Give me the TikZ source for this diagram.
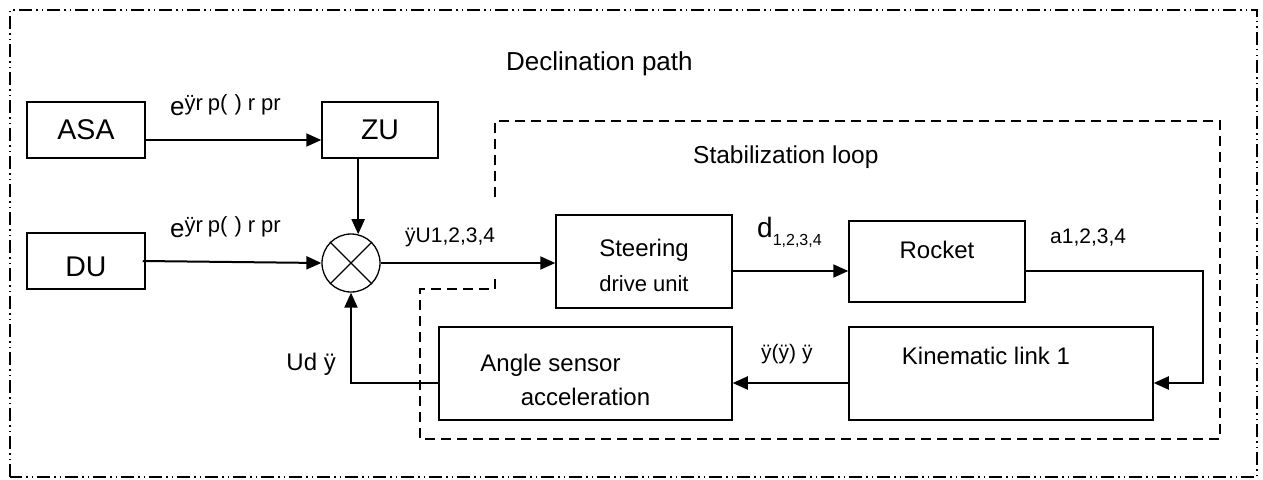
\documentclass[tikz,border=0pt]{standalone}
\usepackage{fontspec}
\setmainfont{Liberation Sans}
\usetikzlibrary{calc}
\usetikzlibrary{positioning}
\usetikzlibrary{arrows.meta}

\begin{document}
\begin{tikzpicture}[x=1pt, y=-1pt,
    block/.style={rectangle, draw=black, line width=1.5pt, inner sep=0pt},
    bigtext/.style={font=\fontsize{28.5}{30}\selectfont},
    boxtext/.style={font=\fontsize{24}{26}\selectfont},
    smalltext/.style={font=\fontsize{22}{24}\selectfont},
    tag/.style={inner sep=0pt, font=\fontsize{21}{23}\selectfont},
    summer/.style={circle, draw=black, line width=1.3pt, minimum size=58pt, inner sep=0pt},
    signal/.style={-{Triangle[length=15pt,width=13pt]}, line width=2pt},
    region/.style={line width=1.5pt, dash pattern=on 10pt off 6pt},
    frame/.style={line width=1.5pt, dash pattern=on 13pt off 4pt on 1.5pt off 4pt on 1.5pt off 4pt}]
\useasboundingbox (0,0) rectangle (1263,479);

% outer frame and stabilization region
\draw[frame] (10,477) -- (10,10) -- (1257,10) -- (1257,477) -- cycle;
\draw[region] (495,197) -- (495,121) -- (1220,121) -- (1220,439) -- (420,439) -- (420,289) -- (495,289) -- (495,277);

\node[anchor=base west, inner sep=0pt, font=\fontsize{26}{28}\selectfont] (decl) at (506,70) {Declination path};
\node[anchor=base west, inner sep=0pt, font=\fontsize{24.5}{26}\selectfont] (stab) at (693,163) {Stabilization loop};

% blocks
\node[block, bigtext, minimum width=118pt, minimum height=56pt] (asa) at (86,130) {ASA};
\node[block, bigtext, minimum width=116pt, minimum height=56pt] (zu) at (380,130) {ZU};
\node[block, minimum width=118pt, minimum height=56pt, label={[bigtext, yshift=-6pt]center:DU}] (du) at (86,261) {};
\node[summer] (sum) at (351,263) {};
\draw[line width=1.3pt] (sum.north east) -- (sum.south west) (sum.north west) -- (sum.south east);

\node[block, minimum width=176pt, minimum height=93pt,
      label={[boxtext, yshift=11.5pt]center:Steering},
      label={[smalltext, yshift=-22.5pt]center:drive unit}] (steer) at (644,261.5) {};
\node[block, minimum width=176pt, minimum height=81pt,
      label={[boxtext, yshift=11.5pt]center:Rocket}] (rocket) at (937,261.5) {};
\node[block, minimum width=304pt, minimum height=93pt,
      label={[boxtext, xshift=-15pt, yshift=18pt]center:Kinematic link 1}] (kin) at (1001,373.5) {};
\node[block, minimum width=293pt, minimum height=93pt,
      label={[boxtext, xshift=-35pt, yshift=8.5pt]center:Angle sensor},
      label={[boxtext, yshift=-23pt]center:acceleration}] (ang) at (585.5,373.5) {};

% signal labels
\node[tag, anchor=base west] (eza) at (170,115) {{\fontsize{26}{28}\selectfont e}\raisebox{5pt}{\fontsize{22}{24}\selectfont ÿr\hspace{5pt}p(\hspace{7pt})\hspace{6pt}r\hspace{6pt}pr}};
\node[tag, anchor=base west] (edu) at (170,237) {{\fontsize{26}{28}\selectfont e}\raisebox{5pt}{\fontsize{22}{24}\selectfont ÿr\hspace{5pt}p(\hspace{7pt})\hspace{6pt}r\hspace{6pt}pr}};
\node[tag, anchor=base west] (usum) at (405,242) {ÿU1,2,3,4};
\node[tag, anchor=base west] (dang) at (757,237) {{\fontsize{28}{30}\selectfont d}\raisebox{-8pt}{\fontsize{16}{18}\selectfont 1,2,3,4}};
\node[tag, anchor=base west] (aang) at (1050,243) {a1,2,3,4};
\node[tag, anchor=base west] (yang) at (761,359) {ÿ(ÿ) ÿ};
\node[tag, anchor=base east, font=\fontsize{24}{26}\selectfont] (ud) at (336,370) {Ud ÿ};

% connectors
\coordinate (turn) at (1203,383);
\draw[signal] ([yshift=-10pt]asa.east) -- ([yshift=-10pt]zu.west);
\draw[signal] (sum.76 |- zu.south) -- (sum.76);
\draw[signal] ([xshift=-3pt]du.east) -- (sum.west);
\draw[signal] (sum.east) -- (sum.east -| steer.west);
\draw[signal] ([yshift=-9.5pt]steer.east) -- ([yshift=-9.5pt]rocket.west);
\draw[signal] ([yshift=-9.5pt]rocket.east) -| (turn) -- (turn -| kin.east);
\draw[signal] ([yshift=-9.5pt]kin.west) -- ([yshift=-9.5pt]ang.east);
\draw[signal] ([yshift=-9.5pt]ang.west) -| (sum.south);
\end{tikzpicture}
\end{document}
